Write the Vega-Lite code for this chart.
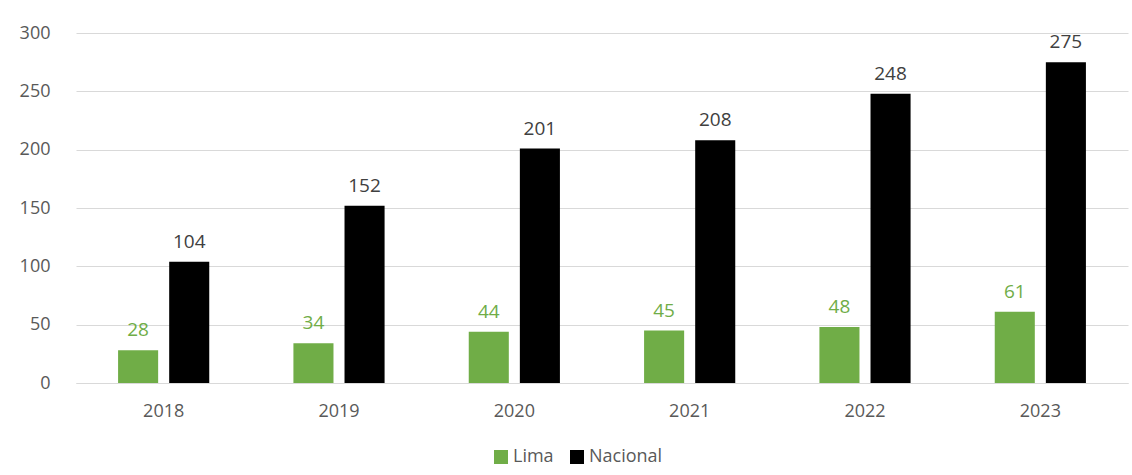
{
  "$schema": "https://vega.github.io/schema/vega-lite/v6.json",
  "width": 1052,
  "height": 350,
  "autosize": {"type": "none"},
  "padding": {"left": 76, "top": 33, "right": 4, "bottom": 92},
  "background": "white",
  "config": {
    "view": {"stroke": null},
    "font": "Open Sans",
    "axis": {"labelFont": "Open Sans", "labelColor": "#595959", "labelFontSize": 18}
  },
  "data": {
    "values": [
      {"year": "2018", "serie": "Lima", "value": 28},
      {"year": "2018", "serie": "Nacional", "value": 104},
      {"year": "2019", "serie": "Lima", "value": 34},
      {"year": "2019", "serie": "Nacional", "value": 152},
      {"year": "2020", "serie": "Lima", "value": 44},
      {"year": "2020", "serie": "Nacional", "value": 201},
      {"year": "2021", "serie": "Lima", "value": 45},
      {"year": "2021", "serie": "Nacional", "value": 208},
      {"year": "2022", "serie": "Lima", "value": 48},
      {"year": "2022", "serie": "Nacional", "value": 248},
      {"year": "2023", "serie": "Lima", "value": 61},
      {"year": "2023", "serie": "Nacional", "value": 275}
    ]
  },
  "encoding": {
    "x": {
      "field": "year", "type": "nominal",
      "scale": {"paddingInner": 0.48, "paddingOuter": 0.24},
      "axis": {"title": null, "labelAngle": 0, "ticks": false, "domain": true, "domainColor": "#D9D9D9", "labelPadding": 19}
    },
    "xOffset": {
      "field": "serie", "type": "nominal",
      "scale": {"paddingInner": 0.216, "paddingOuter": 0}
    },
    "y": {
      "field": "value", "type": "quantitative",
      "scale": {"domain": [0, 300], "nice": false},
      "axis": {"title": null, "values": [0, 50, 100, 150, 200, 250, 300], "ticks": false, "domain": false, "gridColor": "#D9D9D9", "labelPadding": 26}
    }
  },
  "layer": [
    {
      "mark": {"type": "bar"},
      "encoding": {
        "color": {
          "field": "serie", "type": "nominal",
          "scale": {"domain": ["Lima", "Nacional"], "range": ["#70AD47", "#000000"]},
          "legend": {
            "title": null, "orient": "none", "direction": "horizontal",
            "legendX": 416, "legendY": 415,
            "symbolType": "square", "symbolSize": 196, "symbolStrokeWidth": 0,
            "labelFontSize": 18, "labelColor": "#595959", "labelFont": "Open Sans",
            "columnPadding": 14, "labelOffset": 3
          }
        }
      }
    },
    {
      "mark": {"type": "text", "dy": -20, "fontSize": 19, "font": "Open Sans"},
      "encoding": {
        "text": {"field": "value", "type": "quantitative"},
        "color": {
          "field": "serie", "type": "nominal",
          "scale": {"domain": ["Lima", "Nacional"], "range": ["#70AD47", "#404040"]},
          "legend": null
        }
      }
    }
  ],
  "resolve": {"scale": {"color": "independent"}}
}
